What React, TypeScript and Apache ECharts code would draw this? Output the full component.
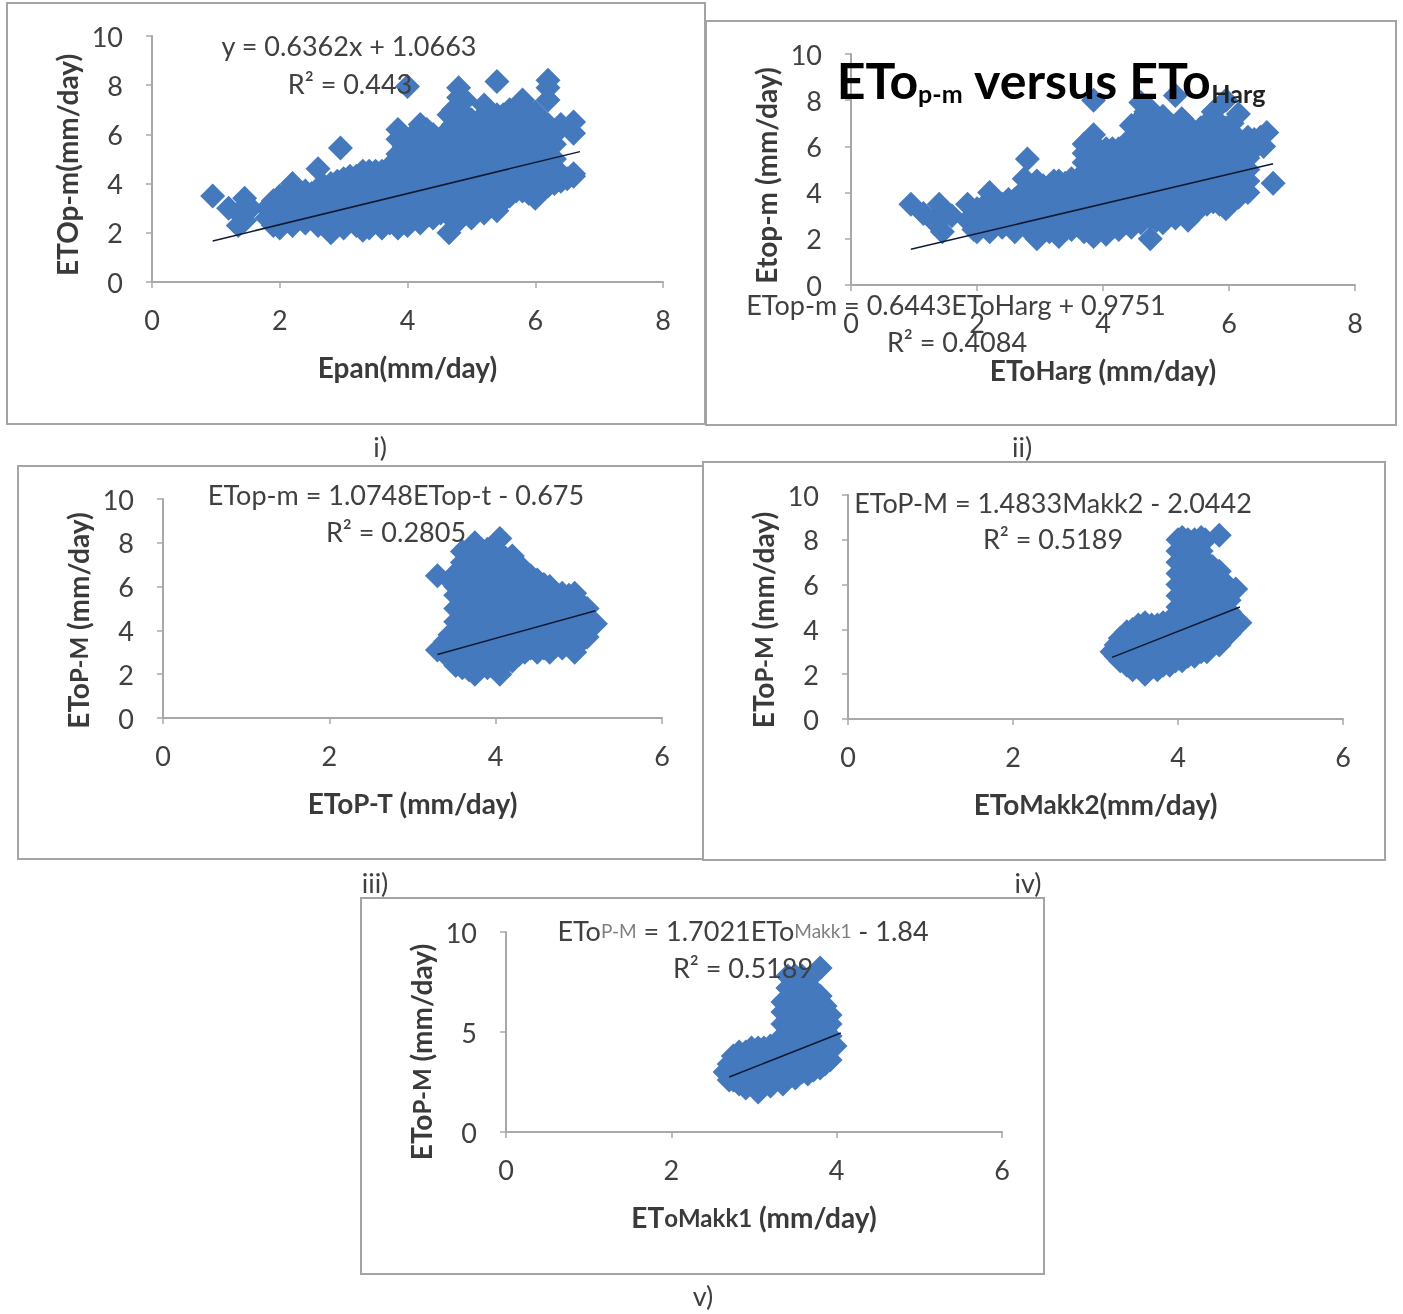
import React, { useEffect, useRef } from "react";
import * as echarts from "echarts";

type Column = [number, number[]];

const panelOneColumns: Column[] = [
  [0.95, [3.5]], [1.2, [3.0]], [1.35, [2.3, 2.8]], [1.45, [2.5, 3.4]], [1.55, [3.0]],
  [1.8, [2.6, 3.0]], [1.9, [2.3, 2.8, 3.3]], [2.0, [2.2, 2.7, 3.2, 3.5]], [2.1, [2.5, 3.0, 3.6]], [2.2, [2.3, 2.8, 3.3, 3.8, 4.0]], [2.3, [2.6, 3.1, 3.6]], [2.4, [2.4, 2.9, 3.4, 3.7]],
  [2.5, [2.6, 3.1, 3.6]], [2.6, [2.3, 2.8, 3.3, 3.8, 4.6]], [2.7, [2.5, 3.0, 3.5, 3.9]], [2.8, [2.0, 2.5, 3.0, 3.5, 4.0]], [2.9, [2.3, 2.8, 3.3, 3.8, 4.1]], [2.95, [5.45]], [3.0, [2.2, 2.7, 3.2, 3.7, 4.2]],
  [3.1, [2.5, 3.0, 3.5, 4.0, 4.3]], [3.2, [2.3, 2.8, 3.3, 3.8, 4.3]], [3.3, [2.1, 2.6, 3.1, 3.6, 4.1, 4.5]], [3.4, [2.2, 2.7, 3.2, 3.7, 4.2, 4.5]], [3.5, [2.5, 3.0, 3.5, 4.0, 4.5]], [3.6, [2.2, 2.7, 3.2, 3.7, 4.2, 4.5]],
  [3.72, [2.4, 2.9, 3.4, 3.9, 4.4, 4.7]], [3.85, [2.2, 2.7, 3.2, 3.7, 4.2, 4.7, 5.2, 5.8, 6.2]], [3.95, [2.5, 3.0, 3.5, 4.0, 4.5, 5.0, 5.5, 5.9]], [4.0, [2.3, 2.8, 3.3, 3.8, 4.3, 4.8, 5.3, 5.7, 7.95]],
  [4.1, [2.6, 3.1, 3.6, 4.1, 4.6, 5.1, 5.6, 6.0]], [4.2, [2.4, 2.9, 3.4, 3.9, 4.4, 4.9, 5.4, 5.9, 6.4]], [4.3, [2.7, 3.2, 3.7, 4.2, 4.7, 5.2, 5.7, 6.2]], [4.4, [2.6, 3.1, 3.6, 4.1, 4.6, 5.1, 5.6, 6.0]], [4.52, [2.8, 3.3, 3.8, 4.3, 4.8, 5.3, 5.8]],
  [4.65, [2.0, 2.7, 3.2, 3.7, 4.2, 4.7, 5.2, 5.7, 6.2, 6.8]], [4.72, [2.9, 3.4, 3.9, 4.4, 4.9, 5.4, 5.9, 6.4, 7.0]], [4.8, [2.5, 3.0, 3.5, 4.0, 4.5, 5.0, 5.5, 6.0, 6.5, 7.0, 7.5, 7.9]], [4.9, [2.8, 3.3, 3.8, 4.3, 4.8, 5.3, 5.8, 6.3, 6.8, 7.4]],
  [5.0, [2.6, 3.1, 3.6, 4.1, 4.6, 5.1, 5.6, 6.1, 6.6]], [5.1, [2.9, 3.4, 3.9, 4.4, 4.9, 5.4, 5.9, 6.4]], [5.2, [2.8, 3.3, 3.8, 4.3, 4.8, 5.3, 5.8, 6.3, 6.8, 7.2]],
  [5.3, [3.1, 3.6, 4.1, 4.6, 5.1, 5.6, 6.1, 6.6]], [5.4, [2.9, 3.4, 3.9, 4.4, 4.9, 5.4, 5.9, 6.4, 6.8, 8.15]], [5.5, [3.3, 3.8, 4.3, 4.8, 5.3, 5.8, 6.3, 6.8]], [5.6, [3.5, 4.0, 4.5, 5.0, 5.5, 6.0, 6.5, 7.0]],
  [5.7, [3.7, 4.2, 4.7, 5.2, 5.7, 6.2, 6.7]], [5.8, [3.7, 4.2, 4.7, 5.2, 5.7, 6.2, 6.7, 7.4]], [5.9, [3.6, 4.1, 4.6, 5.1, 5.6, 6.1, 6.6, 7.0]], [6.0, [3.4, 3.9, 4.4, 4.9, 5.4, 5.9, 6.4, 6.9]],
  [6.1, [3.7, 4.2, 4.7, 5.2, 5.7, 6.2, 6.6]], [6.2, [3.9, 4.4, 4.9, 5.4, 5.9, 6.4, 7.4, 7.9, 8.2]], [6.3, [4.0, 4.5, 5.0, 5.6, 6.0]], [6.4, [4.1, 4.4, 6.4]], [6.5, [4.2]], [6.6, [4.3, 4.4, 6.05, 6.5]],
];
const panelTwoColumns: Column[] = [
  [0.95, [3.5]], [1.15, [3.1]], [1.3, [2.8]], [1.4, [3.5]], [1.45, [2.3, 2.9]], [1.6, [3.0]],
  [1.85, [2.8, 3.5]], [1.95, [2.4, 3.0]], [2.0, [2.3, 2.8, 3.3]], [2.1, [2.6, 3.1, 3.4]], [2.2, [2.3, 2.8, 3.3, 4.0]], [2.3, [2.6, 3.1, 3.6]], [2.4, [2.5, 3.0, 3.5]],
  [2.5, [2.7, 3.2, 3.7]], [2.6, [2.3, 2.8, 3.3, 3.7]], [2.75, [2.6, 3.1, 3.6, 4.1, 4.6]], [2.8, [5.45]], [2.85, [2.3, 2.8, 3.3, 3.8, 4.3]], [2.95, [2.0, 2.5, 3.0, 3.5, 4.0, 4.5]],
  [3.05, [2.3, 2.8, 3.3, 3.8, 4.3]], [3.15, [2.3, 2.8, 3.3, 3.8, 4.3]], [3.22, [2.6, 3.1, 3.6, 4.1, 4.5]], [3.3, [2.1, 2.6, 3.1, 3.6, 4.1, 4.5]], [3.4, [2.4, 2.9, 3.4, 3.9, 4.4]], [3.5, [2.4, 2.9, 3.4, 3.9, 4.4, 4.6]], [3.6, [2.6, 3.1, 3.6, 4.1, 4.6]],
  [3.7, [2.3, 2.8, 3.3, 3.8, 4.3, 4.8, 5.3, 5.7, 6.1]], [3.78, [2.6, 3.1, 3.6, 4.1, 4.6, 5.1, 5.6, 6.1]], [3.85, [2.1, 2.6, 3.1, 3.6, 4.1, 4.6, 5.1, 5.6, 6.1, 6.5, 8.0]], [3.95, [2.4, 2.9, 3.4, 3.9, 4.4, 4.9, 5.4, 5.8]],
  [4.05, [2.2, 2.7, 3.2, 3.7, 4.2, 4.7, 5.2, 5.7, 5.9]], [4.15, [2.5, 3.0, 3.5, 4.0, 4.5, 5.0, 5.5, 5.9]], [4.25, [2.4, 2.9, 3.4, 3.9, 4.4, 4.9, 5.4, 5.9]], [4.35, [2.7, 3.2, 3.7, 4.2, 4.7, 5.2, 5.7, 6.1]],
  [4.45, [2.5, 3.0, 3.5, 4.0, 4.5, 5.0, 5.5, 6.3, 6.9]], [4.52, [2.8, 3.3, 3.8, 4.3, 4.8, 5.3, 5.8, 6.5]], [4.6, [2.7, 3.2, 3.7, 4.2, 4.7, 5.2, 5.7, 6.2, 6.7, 7.2, 7.9]], [4.68, [3.0, 3.5, 4.0, 4.5, 5.0, 5.5, 6.0, 6.5, 7.0, 7.5]],
  [4.75, [2.0, 2.9, 3.4, 3.9, 4.4, 4.9, 5.4, 5.9, 6.4, 6.9, 7.6]], [4.85, [2.8, 3.3, 3.8, 4.3, 4.8, 5.3, 5.8, 6.3, 6.8, 7.2]], [4.95, [2.7, 3.2, 3.7, 4.2, 4.7, 5.2, 5.7, 6.2, 6.7, 7.3]], [5.05, [3.0, 3.5, 4.0, 4.5, 5.0, 5.5, 6.0, 6.5]],
  [5.15, [2.9, 3.4, 3.9, 4.4, 4.9, 5.4, 5.9, 6.4, 6.9, 8.2]], [5.25, [3.2, 3.7, 4.2, 4.7, 5.2, 5.7, 6.2, 6.7, 7.2]], [5.35, [2.8, 3.3, 3.8, 4.3, 4.8, 5.3, 5.8, 6.3, 6.9]], [5.45, [3.1, 3.6, 4.1, 4.6, 5.1, 5.6, 6.1, 6.6]],
  [5.55, [3.4, 3.9, 4.4, 4.9, 5.4, 5.9, 6.4, 6.8]], [5.65, [3.5, 4.0, 4.5, 5.0, 5.5, 6.0, 6.5, 7.0]], [5.75, [3.6, 4.1, 4.6, 5.1, 5.6, 6.1, 6.6, 7.5]], [5.85, [3.5, 4.0, 4.5, 5.0, 5.5, 6.0, 6.5, 7.0]],
  [5.95, [3.3, 3.8, 4.3, 4.8, 5.3, 5.8, 6.3, 6.8, 8.0]], [6.05, [3.6, 4.1, 4.6, 5.1, 5.6, 6.1, 6.6, 7.0]], [6.15, [3.8, 4.3, 4.8, 5.3, 5.8, 6.3, 7.4]], [6.22, [4.1, 4.6, 5.1, 5.6, 6.1]],
  [6.3, [4.0, 4.5, 5.0, 5.5, 6.0, 6.4]], [6.4, [5.9, 6.3]], [6.5, [6.4]], [6.55, [6.0]], [6.6, [6.6]], [6.7, [4.4]],
];
const panelThreeColumns: Column[] = [
  [3.3, [3.1, 6.5]], [3.4, [3.0, 3.5]], [3.45, [2.7, 3.3, 3.8, 6.3]], [3.52, [2.4, 2.9, 3.4, 3.9, 4.4, 5.0, 5.6, 6.0, 6.6]],
  [3.6, [2.3, 2.9, 3.5, 4.1, 4.7, 5.3, 5.9, 6.5, 7.1, 7.6]], [3.68, [2.2, 2.8, 3.4, 4.0, 4.6, 5.2, 5.8, 6.4, 7.0, 7.6]],
  [3.75, [2.0, 2.6, 3.2, 3.8, 4.4, 5.0, 5.6, 6.2, 6.8, 7.4, 8.0]], [3.82, [2.3, 2.9, 3.5, 4.1, 4.7, 5.3, 5.9, 6.5, 7.1, 7.7]],
  [3.9, [2.3, 2.9, 3.5, 4.1, 4.7, 5.3, 5.9, 6.5, 7.1, 7.7]], [3.98, [2.5, 3.1, 3.7, 4.3, 4.9, 5.5, 6.1, 6.7, 7.3, 7.8]],
  [4.05, [2.0, 2.6, 3.2, 3.8, 4.4, 5.0, 5.6, 6.2, 6.8, 7.4, 8.2]], [4.12, [2.5, 3.1, 3.7, 4.3, 4.9, 5.5, 6.1, 6.7, 7.3]],
  [4.2, [2.6, 3.2, 3.8, 4.4, 5.0, 5.6, 6.2, 6.8, 7.4]], [4.28, [2.9, 3.5, 4.1, 4.7, 5.3, 5.9, 6.5, 7.0]],
  [4.35, [3.0, 3.6, 4.2, 4.8, 5.4, 6.0, 6.6]], [4.42, [3.2, 3.8, 4.4, 5.0, 5.6, 6.2, 6.5]],
  [4.5, [3.0, 3.6, 4.2, 4.8, 5.4, 6.0, 6.3]], [4.58, [3.2, 3.8, 4.4, 5.0, 5.6, 6.1]],
  [4.65, [3.0, 3.6, 4.2, 4.8, 5.4, 6.0]], [4.72, [3.3, 3.9, 4.5, 5.1, 5.6]],
  [4.8, [3.2, 3.8, 4.4, 5.0, 5.6, 5.7]], [4.88, [3.5, 4.1, 4.7, 5.3, 5.6]],
  [4.95, [3.0, 3.6, 4.2, 4.8, 5.4, 5.7]], [5.03, [3.5, 4.1, 4.7, 5.2]],
  [5.1, [3.7, 4.3, 5.0]], [5.2, [4.3]],
];
const panelFourColumns: Column[] = [
  [3.2, [3.0]], [3.25, [2.8, 3.3]], [3.3, [2.6, 3.1, 3.6]], [3.38, [2.4, 2.9, 3.4, 3.9]], [3.45, [2.2, 2.7, 3.2, 3.7, 4.0]], [3.52, [2.3, 2.8, 3.3, 3.8, 4.2]],
  [3.6, [2.0, 2.5, 3.0, 3.5, 4.0, 4.3]], [3.68, [2.3, 2.8, 3.3, 3.8, 4.2]], [3.75, [2.2, 2.7, 3.2, 3.7, 4.2]], [3.82, [2.4, 2.9, 3.4, 3.9, 4.3]],
  [3.9, [2.4, 2.9, 3.4, 3.9, 4.4]], [3.97, [2.6, 3.1, 3.6, 4.1, 4.6]], [4.0, [5.0, 5.5, 6.0, 6.5, 7.0, 7.5, 8.0]],
  [4.05, [2.6, 3.1, 3.6, 4.1, 4.6, 5.1, 5.6, 6.1, 6.6, 7.1, 7.6, 8.1]], [4.12, [2.8, 3.3, 3.8, 4.3, 4.8, 5.3, 5.8, 6.3, 6.8, 7.3, 7.8, 8.0]], [4.2, [2.8, 3.3, 3.8, 4.3, 4.8, 5.3, 5.8, 6.3, 6.8, 7.3, 7.8, 8.0]], [4.28, [3.0, 3.5, 4.0, 4.5, 5.0, 5.5, 6.0, 6.5, 7.0, 7.5, 8.1]],
  [4.35, [3.0, 3.5, 4.0, 4.5, 5.0, 5.5, 6.0, 6.5, 7.0]], [4.33, [8.0]], [4.42, [3.3, 3.8, 4.3, 4.8, 5.3, 5.8, 6.3, 6.8]],
  [4.5, [3.3, 3.8, 4.3, 4.8, 5.3, 5.8, 6.3, 6.6, 8.2]], [4.56, [3.6, 4.1, 4.6, 5.1, 5.6, 6.1]],
  [4.62, [3.8, 4.3, 4.8, 5.3, 5.6]], [4.7, [5.8]], [4.75, [4.3]],
];
const panelFiveColumns: Column[] = [
  [2.65, [3.0]], [2.7, [2.6, 3.4]], [2.75, [2.6, 3.2, 3.8]], [2.82, [2.4, 3.0, 3.6, 4.0]], [2.9, [2.2, 2.8, 3.4, 4.0]], [2.97, [2.4, 3.0, 3.6, 4.2]],
  [3.05, [2.0, 2.6, 3.2, 3.8, 4.2]], [3.12, [2.4, 3.0, 3.6, 4.2]], [3.2, [2.3, 2.9, 3.5, 4.1, 4.3]], [3.28, [2.7, 3.3, 3.9, 4.3]],
  [3.35, [2.4, 3.0, 3.6, 4.2, 4.8, 5.4, 6.0, 6.5]], [3.41, [2.8, 3.4, 4.0, 4.6, 5.2, 5.8, 6.4, 7.2, 7.8]],
  [3.5, [2.7, 3.3, 3.9, 4.5, 5.1, 5.7, 6.3, 6.9, 7.5, 7.8]], [3.58, [3.0, 3.6, 4.2, 4.8, 5.4, 6.0, 6.6, 7.2, 7.8]],
  [3.65, [2.9, 3.5, 4.1, 4.7, 5.3, 5.9, 6.5, 7.1, 7.6]], [3.72, [3.1, 3.7, 4.3, 4.9, 5.5, 6.1, 6.7, 7.1]],
  [3.8, [3.2, 3.8, 4.4, 5.0, 5.6, 6.2, 6.8, 8.2]], [3.86, [3.4, 4.0, 4.6, 5.2, 5.8, 6.3]],
  [3.92, [3.6, 4.2, 4.8, 5.4, 5.85]], [3.98, [4.3]],
];

const trendOne = [[0.95, 1.67], [6.7, 5.3]];
const trendTwo = [[0.95, 1.55], [6.7, 5.25]];
const trendThree = [[3.3, 2.9], [5.2, 4.9]];
const trendFour = [[3.2, 2.75], [4.75, 5.0]];
const trendFive = [[2.7, 2.75], [4.05, 4.95]];

const BLUE = "#4579BE";
const AXIS = "#a8a8a8";
const FONT = "Lato, 'Noto Sans', sans-serif";

const flatten = (c: Column[]) => c.flatMap(([x, ys]) => ys.map((y) => [x, y]));

const panels = [
  { l: 152, r: 663, t: 36, b: 282, xMax: 8, yStep: 2, xName: "Epan(mm/day)", yName: "ETOp-m(mm/day)", yShift: 6, cols: panelOneColumns, trend: trendOne },
  { l: 851, r: 1355, t: 54, b: 285, xMax: 8, yStep: 2, xName: "{b|ETo}{m|Harg}{b| (mm/day)}", yName: "Etop-m (mm/day)", yShift: 6, cols: panelTwoColumns, trend: trendTwo },
  { l: 163, r: 662, t: 499, b: 718, xMax: 6, yStep: 2, xName: "{b|ETo}{m|P-T}{b| (mm/day)}", yName: "{b|ETo}{s|P-M}{b| (mm/day)}", yShift: 12, cols: panelThreeColumns, trend: trendThree },
  { l: 848, r: 1343, t: 495, b: 719, xMax: 6, yStep: 2, xName: "{b|ETo}{m|Makk2}{b|(mm/day)}", yName: "{b|ETo}{s|P-M}{b| (mm/day)}", yShift: 13, cols: panelFourColumns, trend: trendFour },
  { l: 506, r: 1002, t: 932, b: 1132, xMax: 6, yStep: 5, xName: "{b|ET}{s|o}{s|Makk1}{b| (mm/day)}", yName: "{b|ETo}{s|P-M}{b| (mm/day)}", yShift: 20, cols: panelFiveColumns, trend: trendFive },
];

const frames = [
  [7, 3, 698, 421], [706, 21, 690, 404], [18, 466, 685, 393], [703, 462, 682, 398], [361, 898, 683, 376],
];
const equations: [string, number, number][] = [
  ["y = 0.6362x + 1.0663", 349, 45], ["R² = 0.443", 350, 83],
  ["ETop-m = 0.6443EToHarg + 0.9751", 956, 304], ["R² = 0.4084", 957, 341],
  ["ETop-m = 1.0748ETop-t - 0.675", 396, 494], ["R² = 0.2805", 396, 531],
  ["EToP-M = 1.4833Makk2 - 2.0442", 1053, 502], ["R² = 0.5189", 1053, 538],
  ["{n|ETo}{t|P-M}{n| = 1.7021ETo}{t|Makk1}{n| - 1.84}", 743, 930], ["R² = 0.5189", 743, 967],
];
const captions: [string, number, number][] = [
  ["i)", 380, 446], ["ii)", 1022, 446], ["iii)", 375, 882], ["iv)", 1028, 882], ["v)", 703, 1295],
];

const nameRich = {
  b: { fontFamily: FONT, fontWeight: "bold" as const, fontSize: 28, color: "#3a3a3a" },
  m: { fontFamily: FONT, fontWeight: "bold" as const, fontSize: 26, color: "#3a3a3a" },
  s: { fontFamily: FONT, fontWeight: "bold" as const, fontSize: 24, color: "#3a3a3a" },
};
const equationRich = {
  n: { fontFamily: FONT, fontSize: 27, fill: "#404040", color: "#404040" },
  t: { fontFamily: FONT, fontSize: 19, fill: "#808080", color: "#808080" },
};

export default function App() {
  const ref = useRef<HTMLDivElement>(null);
  useEffect(() => {
    document.body.style.margin = "0";
    const chart = echarts.init(ref.current!, undefined, { renderer: "svg" });
    const axisCommon = {
      type: "value" as const,
      splitLine: { show: false },
      axisLine: { show: true, lineStyle: { color: AXIS, width: 2 } },
      axisTick: { show: true, length: 6, inside: false, lineStyle: { color: AXIS, width: 1.5 } },
      nameLocation: "middle" as const,
    };
    const labelStyle = { fontFamily: FONT, fontSize: 27, color: "#404040" };
    chart.setOption({
      animation: false,
      backgroundColor: "#ffffff",
      grid: panels.map((p) => ({ left: p.l, top: p.t, width: p.r - p.l, height: p.b - p.t, containLabel: false })),
      xAxis: panels.map((p, i) => ({
        ...axisCommon,
        gridIndex: i,
        min: 0,
        max: p.xMax,
        interval: 2,
        axisLabel: { ...labelStyle, margin: 24 },
        name: p.xName,
        nameGap: 71,
        nameTextStyle: { fontFamily: FONT, fontWeight: "bold", fontSize: 28, color: "#3a3a3a", rich: nameRich },
      })),
      yAxis: panels.map((p, i) => ({
        ...axisCommon,
        gridIndex: i,
        min: 0,
        max: 10,
        interval: p.yStep,
        axisLabel: { ...labelStyle, margin: 29 },
        name: p.yName,
        nameGap: 71,
        nameTextStyle: {
          fontFamily: FONT, fontWeight: "bold", fontSize: 28, color: "#3a3a3a", rich: nameRich,
          padding: [0, p.yShift * 2, 0, 0],
        },
      })),
      series: panels.flatMap((p, i) => [
        {
          type: "scatter",
          xAxisIndex: i,
          yAxisIndex: i,
          symbol: "diamond",
          symbolSize: 25,
          itemStyle: { color: BLUE, opacity: 1 },
          data: flatten(p.cols),
          z: 2,
        },
        {
          type: "line",
          xAxisIndex: i,
          yAxisIndex: i,
          showSymbol: false,
          symbol: "none",
          lineStyle: { color: "#111a33", width: 1.5 },
          data: p.trend,
          z: 3,
        },
      ]),
      graphic: [
        ...frames.map(([x, y, width, height]) => ({
          type: "rect", shape: { x, y, width, height }, style: { fill: "none", stroke: "#a4a4a4", lineWidth: 2 }, z: 1,
        })),
        ...equations.map(([text, x, y]) => ({
          type: "text", x, y, z: 20,
          style: { text, fontFamily: FONT, fontSize: 27, fill: "#404040", align: "center", verticalAlign: "middle", rich: equationRich },
        })),
        ...captions.map(([text, x, y]) => ({
          type: "text", x, y, z: 20,
          style: { text, fontFamily: FONT, fontSize: 27, fill: "#404040", align: "center", verticalAlign: "middle" },
        })),
        {
          type: "text", x: 1051, y: 80, z: 30,
          style: {
            text: "{a|ETo}{b|p-m}{a| versus ETo}{c|Harg}",
            align: "center",
            verticalAlign: "middle",
            rich: {
              a: { fontFamily: FONT, fontWeight: "bold", fontSize: 50, fill: "#000", color: "#000" },
              b: { fontFamily: FONT, fontWeight: "bold", fontSize: 25, fill: "#000", color: "#000", verticalAlign: "bottom" },
              c: { fontFamily: FONT, fontWeight: "bold", fontSize: 25, fill: "#222", color: "#222", verticalAlign: "bottom" },
            },
          },
        },
      ],
    });
    return () => chart.dispose();
  }, []);
  return <div ref={ref} style={{ position: "absolute", left: 0, top: 0, width: 1403, height: 1314, filter: "blur(0.6px)" }} />;
}
